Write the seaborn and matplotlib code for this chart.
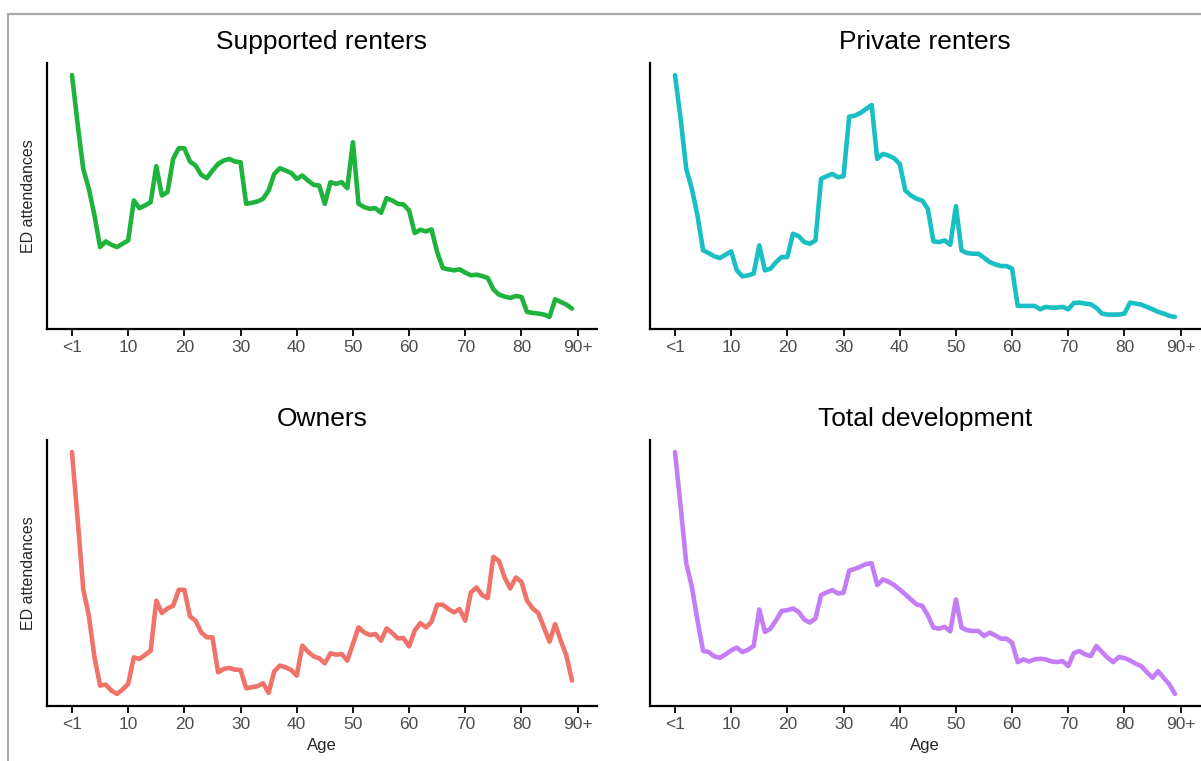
import numpy as np
import pandas as pd
import seaborn as sns
from matplotlib import pyplot as plt
from matplotlib.patches import Rectangle

# 01 - Data (relative heights, no y scale shown)
ages = list(range(0, 90))

supported = [762, 615, 480, 420, 340, 245, 262, 252, 245, 255,
             265, 385, 362, 370, 380, 488, 400, 410, 510, 542,
             542, 502, 490, 462, 452, 475, 495, 505, 510, 502,
             500, 375, 378, 382, 390, 415, 465, 482, 475, 468,
             450, 460, 445, 432, 430, 375, 440, 435, 440, 422,
             560, 375, 365, 360, 362, 348, 392, 385, 375, 373,
             355, 287, 297, 292, 298, 230, 182, 178, 175, 178,
             168, 160, 162, 158, 152, 118, 102, 96, 92, 98,
             95, 50, 47, 45, 42, 35, 88, 80, 72, 60]

private = [762, 630, 480, 420, 340, 235, 227, 217, 212, 222,
           232, 175, 157, 160, 165, 250, 175, 180, 200, 215,
           215, 285, 278, 260, 255, 265, 450, 458, 465, 455,
           458, 637, 640, 648, 660, 672, 510, 525, 520, 512,
           495, 415, 400, 390, 385, 360, 262, 260, 265, 252,
           368, 235, 227, 225, 225, 213, 200, 193, 188, 188,
           180, 68, 68, 68, 68, 58, 65, 63, 63, 65,
           58, 77, 78, 75, 73, 62, 45, 42, 42, 42,
           45, 78, 75, 72, 65, 58, 50, 45, 38, 35]

owners = [762, 560, 350, 270, 145, 60, 63, 45, 35, 48,
          65, 145, 140, 152, 165, 315, 278, 292, 300, 348,
          348, 268, 255, 220, 205, 205, 100, 110, 113, 108,
          107, 52, 55, 58, 67, 38, 103, 120, 115, 107,
          90, 180, 162, 148, 142, 127, 157, 153, 155, 135,
          185, 235, 220, 212, 215, 195, 232, 218, 202, 203,
          178, 225, 248, 235, 252, 303, 303, 290, 280, 290,
          255, 340, 355, 332, 323, 447, 435, 385, 352, 385,
          372, 315, 292, 278, 235, 192, 245, 195, 150, 75]

total = [762, 600, 430, 360, 260, 168, 165, 152, 148, 158,
         170, 178, 165, 172, 183, 292, 225, 235, 260, 288,
         290, 295, 285, 262, 253, 265, 335, 343, 350, 340,
         342, 408, 413, 420, 428, 430, 365, 382, 375, 365,
         352, 337, 322, 307, 303, 275, 238, 235, 240, 227,
         322, 238, 230, 228, 228, 213, 223, 215, 205, 205,
         193, 135, 143, 137, 143, 145, 143, 137, 135, 138,
         123, 162, 168, 158, 153, 183, 165, 148, 135, 150,
         147, 140, 130, 123, 105, 88, 108, 88, 68, 40]

tenures = ["Supported renters", "Private renters", "Owners", "Total development"]
colours = ["#1DB33C", "#1ABFC4", "#F0736A", "#C27DF7"]
tick_pos = [0, 10, 20, 30, 40, 50, 60, 70, 80, 90]
tick_lab = ["<1", "10", "20", "30", "40", "50", "60", "70", "80", "90+"]

series = [supported, private, owners, total]
df = pd.concat([pd.DataFrame({"age": ages, "ed": s, "tenure": t})
                for s, t in zip(series, tenures)], ignore_index=True)

# 02 - Style
sns.set_style("white")
plt.rcParams['font.family'] = ['Liberation Sans', 'DejaVu Sans']

fig = plt.figure(figsize=(12.01, 7.61), dpi=100)

# grey frame round the picture
fig.patches.append(Rectangle((8 / 1201, -0.05), 1.2, 1 - 14 / 761 + 0.05,
                             transform=fig.transFigure, fill=False,
                             edgecolor="#ABABAB", linewidth=1.6))

w, h = 550 / 1201, 266 / 761
positions = [(47 / 1201, 1 - 329 / 761), (650 / 1201, 1 - 329 / 761),
             (47 / 1201, 1 - 706 / 761), (650 / 1201, 1 - 706 / 761)]

for i, (t, c) in enumerate(zip(tenures, colours)):
    ax = fig.add_axes([positions[i][0], positions[i][1], w, h])
    sns.lineplot(data=df[df["tenure"] == t], x="age", y="ed", color=c,
                 linewidth=3.3, ax=ax)
    ax.set_xlim(-4.45, 93.45)
    ax.margins(y=0.05)
    ax.set_xticks(tick_pos)
    ax.set_xticklabels(tick_lab, fontsize=12.5, color="#4D4D4D")
    ax.set_yticks([])
    ax.tick_params(axis="x", direction="out", length=5, width=1.3,
                   color="black", bottom=True, pad=3)
    for side in ["top", "right"]:
        ax.spines[side].set_visible(False)
    for side in ["left", "bottom"]:
        ax.spines[side].set_color("black")
        ax.spines[side].set_linewidth(1.6)
    ax.set_title(t, fontsize=19, color="black", pad=10)
    ax.set_ylabel("ED attendances" if i % 2 == 0 else "", fontsize=11.5, labelpad=8)
    ax.set_xlabel("Age" if i >= 2 else "", fontsize=12, labelpad=4)

fig.savefig("out.png", dpi=100)
